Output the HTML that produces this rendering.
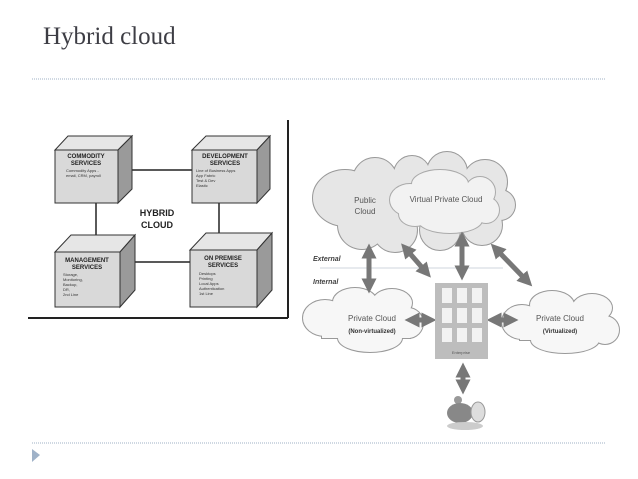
<!DOCTYPE html>
<html><head><meta charset="utf-8"><style>
html,body{margin:0;padding:0;background:#fff;width:638px;height:479px;overflow:hidden}
</style></head><body>
<svg width="638" height="479" viewBox="0 0 638 479" xmlns="http://www.w3.org/2000/svg" font-family="Liberation Sans, sans-serif">
<text x="43" y="44" font-family="Liberation Serif, serif" font-size="25" fill="#3d3d44">Hybrid cloud</text>
<line x1="32" y1="79" x2="605" y2="79" stroke="#9fb0c4" stroke-width="1" stroke-dasharray="1,1"/>
<line x1="32" y1="443" x2="605" y2="443" stroke="#9fb0c4" stroke-width="1" stroke-dasharray="1,1"/>
<polygon points="32,449 40,455 32,462" fill="#9fb2c8"/>

<line x1="288" y1="120" x2="288" y2="318" stroke="#222" stroke-width="2"/>
<line x1="28" y1="318" x2="288" y2="318" stroke="#222" stroke-width="2"/>
<g stroke="#222" stroke-width="1.5">
<line x1="118" y1="170" x2="192" y2="170"/>
<line x1="96" y1="203" x2="96" y2="252"/>
<line x1="219" y1="203" x2="219" y2="250"/>
<line x1="135" y1="262" x2="190" y2="262"/>
</g>
<g stroke="#333" stroke-width="1">
<polygon points="55,150 68,136 132,136 118,150" fill="#e6e6e6"/>
<polygon points="118,150 132,136 132,189 118,203" fill="#9a9a9a"/>
<rect x="55" y="150" width="63" height="53" fill="#d9d9d9"/>
<polygon points="192,150 206,136 270,136 257,150" fill="#e6e6e6"/>
<polygon points="257,150 270,136 270,189 257,203" fill="#9a9a9a"/>
<rect x="192" y="150" width="65" height="53" fill="#d9d9d9"/>
<polygon points="55,252 71,235 135,235 120,252" fill="#e6e6e6"/>
<polygon points="120,252 135,235 135,290 120,307" fill="#9a9a9a"/>
<rect x="55" y="252" width="65" height="55" fill="#d9d9d9"/>
<polygon points="190,250 206,233 272,233 257,250" fill="#e6e6e6"/>
<polygon points="257,250 272,233 272,290 257,307" fill="#9a9a9a"/>
<rect x="190" y="250" width="67" height="57" fill="#d9d9d9"/>
</g>
<g fill="#222" font-weight="bold" text-anchor="middle" font-size="6">
<text x="86" y="158">COMMODITY</text><text x="86" y="165">SERVICES</text>
<text x="225" y="158">DEVELOPMENT</text><text x="225" y="165">SERVICES</text>
<text x="87" y="262">MANAGEMENT</text><text x="87" y="269">SERVICES</text>
<text x="223" y="260">ON PREMISE</text><text x="223" y="267">SERVICES</text>
<text x="157" y="216" font-size="9">HYBRID</text><text x="157" y="228" font-size="9">CLOUD</text>
</g>
<g fill="#333" font-size="4">
<text x="66" y="172">Commodity Apps -</text><text x="66" y="177">email, CRM, payroll</text>
<text x="196" y="172">Line of Business Apps</text><text x="196" y="177">App Fabric</text><text x="196" y="182">Test &amp; Dev</text><text x="196" y="187">Elastic</text>
<text x="63" y="276">Storage,</text><text x="63" y="281">Monitoring,</text><text x="63" y="286">Backup,</text><text x="63" y="291">DR,</text><text x="63" y="296">2nd Line</text>
<text x="199" y="275">Desktops</text><text x="199" y="280">Printing</text><text x="199" y="285">Local Apps</text><text x="199" y="290">Authentication</text><text x="199" y="295">1st Line</text>
</g>

<defs>
<g id="big">
<ellipse cx="345" cy="198" rx="32" ry="28"/><circle cx="375" cy="180" r="22"/><circle cx="412" cy="174" r="18"/><circle cx="447" cy="172" r="20"/><circle cx="485" cy="182" r="22"/><circle cx="500" cy="205" r="15"/><circle cx="482" cy="225" r="20"/><circle cx="440" cy="230" r="20"/><circle cx="395" cy="230" r="22"/><circle cx="362" cy="225" r="24"/><rect x="340" y="180" width="160" height="45"/>
</g>
<g id="vpc">
<ellipse cx="410" cy="200" rx="20" ry="16"/><ellipse cx="440" cy="184" rx="28" ry="14"/><circle cx="480" cy="192" r="15"/><circle cx="486" cy="210" r="13"/><ellipse cx="450" cy="220" rx="32" ry="13"/><ellipse cx="415" cy="214" rx="16" ry="12"/><rect x="408" y="188" width="80" height="30"/>
</g>
<g id="pl">
<ellipse cx="325" cy="318" rx="22" ry="18"/><ellipse cx="355" cy="302" rx="22" ry="14"/><ellipse cx="392" cy="303" rx="20" ry="14"/><circle cx="408" cy="323" r="15"/><ellipse cx="370" cy="338" rx="32" ry="14"/><rect x="322" y="305" width="88" height="33"/>
</g>
<g id="pr">
<ellipse cx="522" cy="322" rx="20" ry="17"/><ellipse cx="552" cy="305" rx="22" ry="14"/><ellipse cx="592" cy="308" rx="20" ry="14"/><circle cx="605" cy="330" r="14"/><ellipse cx="565" cy="340" rx="34" ry="13"/><rect x="520" y="310" width="88" height="30"/>
</g>
<marker id="m" markerWidth="3" markerHeight="3" refX="1.5" refY="1.5" orient="auto-start-reverse" markerUnits="strokeWidth"><path d="M0,0 L3,1.5 L0,3 Z" fill="#777"/></marker>
</defs>
<use href="#big" fill="none" stroke="#999" stroke-width="2"/>
<use href="#big" fill="#e6e6e6"/>
<use href="#vpc" fill="none" stroke="#aaa" stroke-width="2"/>
<use href="#vpc" fill="#f2f2f2"/>
<use href="#pl" fill="none" stroke="#999" stroke-width="2"/>
<use href="#pl" fill="#f7f7f7"/>
<use href="#pr" fill="none" stroke="#999" stroke-width="2"/>
<use href="#pr" fill="#f7f7f7"/>
<g fill="#555" font-size="8" text-anchor="middle">
<text x="365" y="203">Public</text><text x="365" y="214">Cloud</text>
<text x="446" y="202">Virtual Private Cloud</text>
<text x="372" y="321">Private Cloud</text>
<text x="560" y="321">Private Cloud</text>
<text x="372" y="333" font-size="6" font-weight="bold" fill="#333">(Non-virtualized)</text>
<text x="560" y="333" font-size="6" font-weight="bold" fill="#333">(Virtualized)</text>
</g>
<line x1="320" y1="268" x2="503" y2="268" stroke="#cfd6dc" stroke-width="1"/>
<text x="313" y="261" font-size="7" font-weight="bold" font-style="italic" fill="#444">External</text>
<text x="313" y="284" font-size="7" font-weight="bold" font-style="italic" fill="#444">Internal</text>
<g stroke="#777" stroke-width="5" marker-start="url(#m)" marker-end="url(#m)">
<line x1="369" y1="251" x2="369" y2="286"/>
<line x1="406" y1="249" x2="426" y2="272"/>
<line x1="462" y1="239" x2="462" y2="273"/>
<line x1="496" y1="249" x2="527" y2="281"/>
<line x1="412" y1="320" x2="429" y2="320"/>
<line x1="494" y1="320" x2="511" y2="320"/>
<line x1="463" y1="370" x2="463" y2="387"/>
</g>
<rect x="435" y="283" width="53" height="76" fill="#bdbdbd"/>
<g fill="#f2f2f2">
<rect x="442" y="288" width="10" height="15"/><rect x="457" y="288" width="10" height="15"/><rect x="472" y="288" width="10" height="15"/>
<rect x="442" y="308" width="10" height="15"/><rect x="457" y="308" width="10" height="15"/><rect x="472" y="308" width="10" height="15"/>
<rect x="442" y="328" width="10" height="14"/><rect x="457" y="328" width="10" height="14"/><rect x="472" y="328" width="10" height="14"/>
</g>
<text x="461" y="354" font-size="4" fill="#555" text-anchor="middle">Enterprise</text>
<circle cx="458" cy="400" r="4" fill="#999"/>
<ellipse cx="460" cy="413" rx="13" ry="10" fill="#888"/>
<ellipse cx="478" cy="412" rx="7" ry="10" fill="#ddd" stroke="#999"/>
<ellipse cx="465" cy="426" rx="18" ry="4" fill="#ccc"/>
</svg>
</body></html>
